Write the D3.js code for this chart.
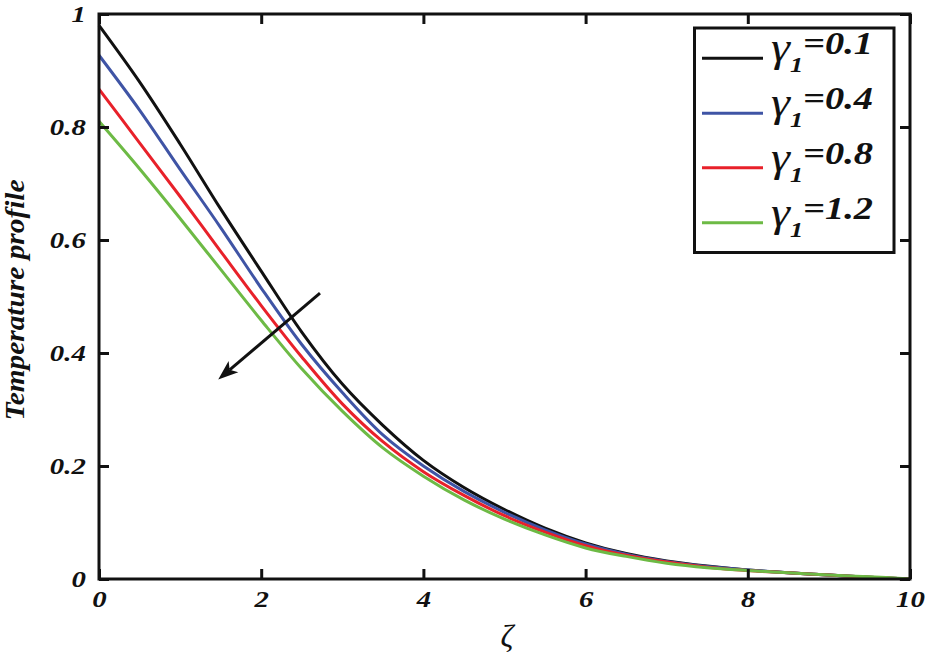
<!DOCTYPE html>
<html>
<head>
<meta charset="utf-8">
<script src="https://cdn.jsdelivr.net/npm/d3@7"></script>
<style>
  html, body { margin: 0; padding: 0; background: #fff; }
  svg { display: block; }
  svg text { font-family: "Liberation Serif", "Times New Roman", "DejaVu Serif Condensed", "DejaVu Serif", serif; }
</style>
</head>
<body>
<svg id="chart" width="925" height="655"></svg>
<script>
// ---- data ----
const zeta = [0,0.5,1,1.5,2,2.5,3,3.5,4,4.5,5,5.5,6,6.5,7,7.5,8,8.5,9,9.5,10];
const gamma01 = [0.98,0.88,0.77,0.655,0.545,0.437,0.345,0.272,0.21,0.162,0.123,0.09,0.064,0.045,0.032,0.023,0.016,0.011,0.007,0.003,0];
const gamma04 = [0.927,0.83,0.725,0.622,0.515,0.415,0.33,0.255,0.2,0.155,0.118,0.087,0.062,0.044,0.031,0.022,0.016,0.011,0.007,0.003,0];
const gamma08 = [0.867,0.772,0.677,0.58,0.484,0.393,0.31,0.243,0.19,0.148,0.112,0.083,0.059,0.042,0.03,0.021,0.015,0.011,0.007,0.003,0];
const gamma12 = [0.81,0.726,0.638,0.548,0.458,0.372,0.297,0.232,0.182,0.14,0.106,0.078,0.055,0.04,0.028,0.02,0.015,0.011,0.007,0.004,0];
const seriesNames = ["=0.1","=0.4","=0.8","=1.2"];
const seriesColors = ["#111111","#3F54A5","#E8212A","#6DBA45"];
const xTicks = [0,2,4,6,8,10];
const xTickLabels = ["0","2","4","6","8","10"];
const yTicks = [0,0.2,0.4,0.6,0.8,1];
const yTickLabels = ["0","0.2","0.4","0.6","0.8","1"];
const arrowFrom = [2.725, 0.506];
const arrowTo = [1.47, 0.353];

const series = [gamma01, gamma04, gamma08, gamma12];

// ---- layout ----
const svg = d3.select("#chart");
const L = 99, R = 910, T = 14, B = 579;
const x = d3.scaleLinear().domain([0,10]).range([L,R]);
const y = d3.scaleLinear().domain([0,1]).range([B,T]);
const SX = 1.2;

// curves
const line = d3.line().x((d,i)=>x(zeta[i])).y(d=>y(d)).curve(d3.curveCatmullRom.alpha(0.5));
const gLines = svg.append("g");
series.forEach((s,k)=>{
  gLines.append("path").datum(s).attr("d", line)
    .attr("fill","none").attr("stroke", seriesColors[k]).attr("stroke-width",3);
});

// arrow
const ax1 = x(arrowFrom[0]), ay1 = y(arrowFrom[1]), ax2 = x(arrowTo[0]), ay2 = y(arrowTo[1]);
const ang = Math.atan2(ay2-ay1, ax2-ax1);
const hl = 20, hw = 7.5, back = 15;
const ux = Math.cos(ang), uy = Math.sin(ang), px = -uy, py = ux;
svg.append("line").attr("x1",ax1).attr("y1",ay1)
  .attr("x2",ax2-ux*back).attr("y2",ay2-uy*back)
  .attr("stroke","#111").attr("stroke-width",3);
svg.append("path")
  .attr("d", `M${ax2},${ay2} L${ax2-ux*hl+px*hw},${ay2-uy*hl+py*hw} L${ax2-ux*back},${ay2-uy*back} L${ax2-ux*hl-px*hw},${ay2-uy*hl-py*hw} Z`)
  .attr("fill","#111");

// axes
const axB = d3.axisBottom(x).tickValues(xTicks).tickSizeInner(-10).tickSizeOuter(0)
  .tickFormat((d,i)=>xTickLabels[i]).tickPadding(0);
const gB = svg.append("g").attr("transform",`translate(0,${B})`).call(axB);
const axT = d3.axisTop(x).tickValues(xTicks).tickSizeInner(-10).tickSizeOuter(0).tickFormat("");
svg.append("g").attr("transform",`translate(0,${T})`).call(axT);
const axL = d3.axisLeft(y).tickValues(yTicks).tickSizeInner(-10).tickSizeOuter(0)
  .tickFormat((d,i)=>yTickLabels[i]).tickPadding(0);
const gL = svg.append("g").attr("transform",`translate(${L},0)`).call(axL);
const axR = d3.axisRight(y).tickValues(yTicks).tickSizeInner(-10).tickSizeOuter(0).tickFormat("");
svg.append("g").attr("transform",`translate(${R},0)`).call(axR);

svg.selectAll(".domain").remove();
svg.selectAll(".tick line").attr("stroke","#111").attr("stroke-width",3);
svg.selectAll("g").attr("font-family", null);

gB.selectAll(".tick text")
  .attr("y",28).attr("dy",null)
  .attr("transform",`scale(${SX},1)`)
  .attr("font-weight","bold").attr("font-style","italic")
  .attr("font-size",24).attr("fill","#111");
gL.selectAll(".tick text")
  .attr("x",-11).attr("dy","0.3em")
  .attr("transform",`scale(${SX},1)`)
  .attr("font-weight","bold").attr("font-style","italic")
  .attr("font-size",24).attr("fill","#111");

// frame
svg.append("rect").attr("x",L).attr("y",T).attr("width",R-L).attr("height",B-T)
  .attr("fill","none").attr("stroke","#111").attr("stroke-width",3);

// axis titles
svg.append("text")
  .attr("transform",`translate(24,300) rotate(-90)`)
  .attr("text-anchor","middle")
  .attr("textLength",241).attr("lengthAdjust","spacingAndGlyphs")
  .attr("font-weight","bold").attr("font-style","italic")
  .attr("font-size",28).attr("fill","#111")
  .text("Temperature profile");

svg.append("text")
  .attr("transform",`translate(507,647)`)
  .attr("text-anchor","middle")
  .attr("font-style","italic")
  .attr("font-size",32).attr("fill","#111")
  .text("ζ");

// legend
const lg = svg.append("g");
lg.append("rect").attr("x",694.5).attr("y",28).attr("width",199.5).attr("height",224.5)
  .attr("fill","#fff").attr("stroke","#111").attr("stroke-width",3);
const rowY = [58.3,113.3,167.7,222.7];
seriesNames.forEach((nm,k)=>{
  lg.append("line").attr("x1",702).attr("x2",763).attr("y1",rowY[k]).attr("y2",rowY[k])
    .attr("stroke",seriesColors[k]).attr("stroke-width",3);
  const t = lg.append("g").attr("transform",`translate(771,${rowY[k]+3}) scale(${SX},1)`)
    .append("text").attr("x",0).attr("y",0).attr("fill","#111");
  t.append("tspan").attr("font-style","italic").attr("font-size",40).text("γ");
  t.append("tspan").attr("dy",11).attr("font-style","italic").attr("font-weight","bold")
    .attr("font-size",22).text("1");
  t.append("tspan").attr("dy",-18).attr("font-style","italic").attr("font-weight","bold")
    .attr("font-size",32).text(nm);
});
</script>
</body>
</html>
